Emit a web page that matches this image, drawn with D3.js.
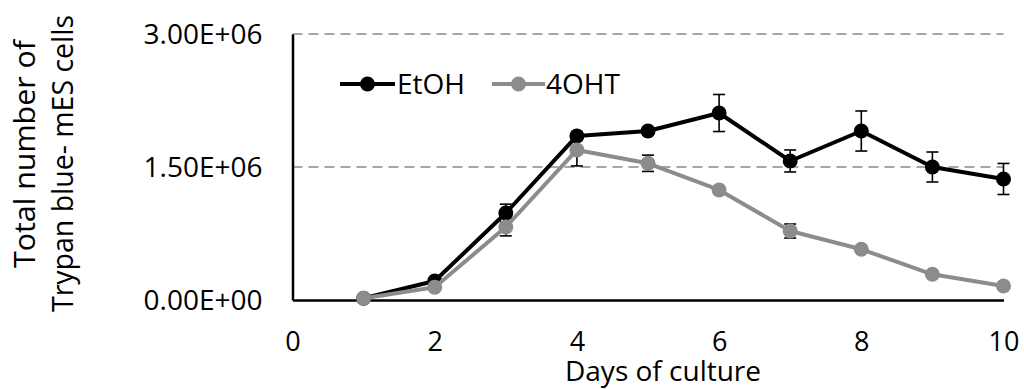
<!DOCTYPE html>
<html>
<head>
<meta charset="utf-8">
<script src="https://cdn.jsdelivr.net/npm/d3@7"></script>
<style>
  html, body { margin: 0; padding: 0; background: #fff; }
  svg { display: block; font-family: "Open Sans", sans-serif; }
</style>
</head>
<body>
<svg id="chart" width="1024" height="389"></svg>
<script>
// Days of culture
const days = [1, 2, 3, 4, 5, 6, 7, 8, 9, 10];
// Mean number of Trypan blue- mES cells
const etohMean = [20000, 214000, 981000, 1850000, 1906000, 2109000, 1568000, 1906000, 1500000, 1365000];
const etohErr  = [5000, 20000, 100000, 50000, 40000, 209000, 124000, 226000, 169000, 175000];
const ohtMean  = [20000, 143000, 823000, 1692000, 1542000, 1241000, 778000, 572000, 290000, 158000];
const ohtErr   = [5000, 20000, 100000, 180000, 92000, 30000, 79000, 20000, 20000, 20000];
const xTicks = [0, 2, 4, 6, 8, 10];
const yTicks = [0, 1500000, 3000000];
const yTickLabels = ["0.00E+00", "1.50E+06", "3.00E+06"];
const seriesNames = ["EtOH", "4OHT"];
const seriesColors = ["#000000", "#8c8c8c"];

const svg = d3.select("#chart");
const plotLeft = 292.5, plotRight = 1003.5, plotTop = 34, plotBottom = 300;

const x = d3.scaleLinear().domain([0, 10]).range([plotLeft, plotRight]);
const y = d3.scaleLinear().domain([0, 3000000]).range([plotBottom, plotTop]);

// dashed gridlines
svg.append("g").selectAll("line")
  .data(yTicks.filter(v => v > 0))
  .join("line")
  .attr("x1", plotLeft).attr("x2", plotRight)
  .attr("y1", d => y(d)).attr("y2", d => y(d))
  .attr("stroke", "#a6a6a6").attr("stroke-width", 2)
  .attr("stroke-dasharray", "10,6");

// y axis
const yAxis = d3.axisLeft(y).tickValues(yTicks)
  .tickFormat((d, i) => yTickLabels[i]).tickSize(0).tickPadding(30);
const gy = svg.append("g").attr("transform", `translate(${plotLeft},0)`).call(yAxis);
gy.select(".domain").attr("stroke", "#000").attr("stroke-width", 2.5);
gy.selectAll("text").attr("font-size", 28).attr("fill", "#000")
  .attr("font-family", "Open Sans, sans-serif").attr("dy", "0.34em");

// x axis
const xAxis = d3.axisBottom(x).tickValues(xTicks).tickSize(0).tickPadding(32);
const gx = svg.append("g").attr("transform", `translate(0,${plotBottom})`).call(xAxis);
gx.select(".domain").attr("stroke", "#000").attr("stroke-width", 2.5);
gx.selectAll("text").attr("font-size", 27).attr("fill", "#000")
  .attr("font-family", "Open Sans, sans-serif");

// axis titles
svg.append("text").attr("x", 663).attr("y", 381)
  .attr("text-anchor", "middle").attr("font-size", 28).text("Days of culture");

svg.append("text").attr("transform", "translate(35,154) rotate(-90)")
  .attr("text-anchor", "middle").attr("font-size", 29)
  .attr("textLength", 228).attr("lengthAdjust", "spacingAndGlyphs")
  .text("Total number of");
svg.append("text").attr("transform", "translate(73,163.5) rotate(-90)")
  .attr("text-anchor", "middle").attr("font-size", 29)
  .attr("textLength", 297).attr("lengthAdjust", "spacingAndGlyphs")
  .text("Trypan blue- mES cells");

const series = [
  { name: seriesNames[0], mean: etohMean, err: etohErr, color: seriesColors[0] },
  { name: seriesNames[1], mean: ohtMean, err: ohtErr, color: seriesColors[1] }
];

const line = d3.line().x(d => x(d.day)).y(d => y(d.v));

series.forEach(s => {
  const pts = days.map((d, i) => ({ day: d, v: s.mean[i], e: s.err[i] }));
  const g = svg.append("g");
  // error bars
  const eb = g.append("g").selectAll("g").data(pts).join("g");
  eb.append("line")
    .attr("x1", d => x(d.day)).attr("x2", d => x(d.day))
    .attr("y1", d => y(d.v + d.e)).attr("y2", d => y(d.v - d.e))
    .attr("stroke", "#000").attr("stroke-width", 1.6);
  [1, -1].forEach(sign => {
    eb.append("line")
      .attr("x1", d => x(d.day) - 6).attr("x2", d => x(d.day) + 6)
      .attr("y1", d => y(d.v + sign * d.e)).attr("y2", d => y(d.v + sign * d.e))
      .attr("stroke", "#000").attr("stroke-width", 1.6);
  });
  // line and markers
  g.append("path").datum(pts).attr("d", line)
    .attr("fill", "none").attr("stroke", s.color).attr("stroke-width", 4)
    .attr("stroke-linejoin", "round");
  g.append("g").selectAll("circle").data(pts).join("circle")
    .attr("cx", d => x(d.day)).attr("cy", d => y(d.v)).attr("r", 7.5)
    .attr("fill", s.color);
});

// legend
const legendPos = [{ x1: 340, x2: 395, tx: 397 }, { x1: 492, x2: 545, tx: 546 }];
series.forEach((s, i) => {
  const p = legendPos[i];
  const lg = svg.append("g");
  lg.append("line").attr("x1", p.x1).attr("x2", p.x2).attr("y1", 84).attr("y2", 84)
    .attr("stroke", s.color).attr("stroke-width", 4);
  lg.append("circle").attr("cx", (p.x1 + p.x2) / 2).attr("cy", 84).attr("r", 7.5)
    .attr("fill", s.color);
  lg.append("text").attr("x", p.tx).attr("y", 94).attr("font-size", 28).text(s.name);
});
</script>
</body>
</html>
